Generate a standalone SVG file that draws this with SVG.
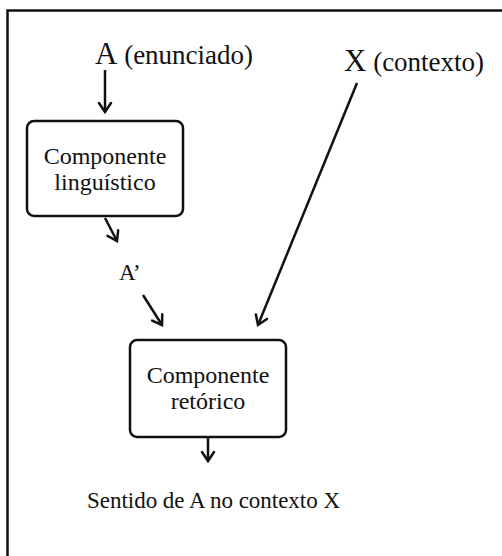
<svg xmlns="http://www.w3.org/2000/svg" width="502" height="556" viewBox="0 0 502 556">
<style>
text{fill:#111;font-family:"Liberation Serif","Times New Roman",serif;}
.box{fill:#fff;stroke:#111;stroke-width:2.5;}
.c{stroke:#111;stroke-width:2.5;fill:none;marker-end:url(#ah);}
</style>
<defs>
<marker id="ah" markerUnits="userSpaceOnUse" markerWidth="20" markerHeight="20" viewBox="-12 -10 14 20" refX="0" refY="0" orient="auto">
<path d="M-9,-6 L0,0 L-9,6" fill="none" stroke="#111" stroke-width="2.5" stroke-linecap="round" stroke-linejoin="miter"/>
</marker>
</defs>
<rect x="0" y="0" width="502" height="556" fill="#fff"/>
<rect x="7.5" y="10.5" width="520" height="560" fill="none" stroke="#111" stroke-width="2.5"/>
<g id="connectors">
<line class="c" x1="105" y1="70" x2="105" y2="112"/>
<line class="c" x1="105" y1="218" x2="117" y2="241"/>
<line class="c" x1="143" y1="295" x2="162" y2="325"/>
<line class="c" x1="357" y1="83" x2="258" y2="325"/>
<line class="c" x1="208" y1="438" x2="208" y2="461"/>
</g>
<g id="A">
<text x="95" y="64"><tspan font-size="31">A</tspan><tspan font-size="27"> (enunciado)</tspan></text>
</g>
<g id="X">
<text x="344" y="71"><tspan font-size="31">X</tspan><tspan font-size="27"> (contexto)</tspan></text>
</g>
<g id="comp-ling">
<rect class="box" x="27" y="121" width="156" height="95" rx="7"/>
<text font-size="24" text-anchor="middle" x="105" y="164">Componente</text>
<text font-size="24" text-anchor="middle" x="105" y="190">linguístico</text>
</g>
<g id="Aprime">
<text font-size="23" x="119" y="280">A’</text>
</g>
<g id="comp-ret">
<rect class="box" x="130" y="340" width="156" height="97" rx="7"/>
<text font-size="24" text-anchor="middle" x="208" y="383">Componente</text>
<text font-size="24" text-anchor="middle" x="208" y="409">retórico</text>
</g>
<g id="sentido">
<text font-size="23" x="87" y="508" textLength="253" lengthAdjust="spacing">Sentido de A no contexto X</text>
</g>
</svg>
